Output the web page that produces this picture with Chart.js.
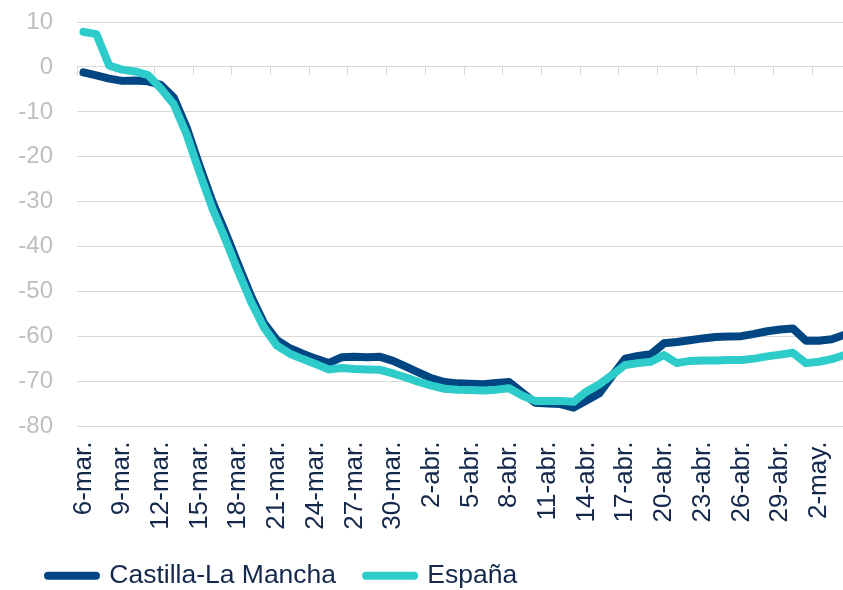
<!DOCTYPE html>
<html>
<head>
<meta charset="utf-8">
<script src="https://cdn.jsdelivr.net/npm/chart.js@4.4.1/dist/chart.umd.min.js"></script>
<style>
  html, body { margin: 0; padding: 0; overflow: hidden; background: #fff; }
</style>
</head>
<body>
<canvas id="movilidad" width="851" height="599"></canvas>
<script>
// categorias (dias)
const fechas = [
  '6-mar.', '7-mar.', '8-mar.', '9-mar.', '10-mar.', '11-mar.', '12-mar.', '13-mar.', '14-mar.', '15-mar.',
  '16-mar.', '17-mar.', '18-mar.', '19-mar.', '20-mar.', '21-mar.', '22-mar.', '23-mar.', '24-mar.', '25-mar.',
  '26-mar.', '27-mar.', '28-mar.', '29-mar.', '30-mar.', '31-mar.', '1-abr.', '2-abr.', '3-abr.', '4-abr.',
  '5-abr.', '6-abr.', '7-abr.', '8-abr.', '9-abr.', '10-abr.', '11-abr.', '12-abr.', '13-abr.', '14-abr.',
  '15-abr.', '16-abr.', '17-abr.', '18-abr.', '19-abr.', '20-abr.', '21-abr.', '22-abr.', '23-abr.', '24-abr.',
  '25-abr.', '26-abr.', '27-abr.', '28-abr.', '29-abr.', '30-abr.', '1-may.', '2-may.', '3-may.', '4-may.'
];

const castillaLaMancha = [
  -1.2, -1.9, -2.6, -3.1, -3.0, -3.2, -4.0, -6.8, -13.5, -22.0,
  -30.0, -36.8, -44.0, -51.0, -57.0, -60.8, -62.6, -63.8, -64.9, -65.9,
  -64.6, -64.5, -64.6, -64.5, -65.4, -66.7, -68.0, -69.3, -70.1, -70.4,
  -70.5, -70.6, -70.3, -70.1, -72.4, -74.7, -74.9, -75.0, -75.8, -74.2,
  -72.6, -68.7, -64.9, -64.3, -63.9, -61.5, -61.2, -60.8, -60.4, -60.1,
  -60.0, -59.9, -59.4, -58.8, -58.4, -58.2, -60.9, -60.9, -60.6, -59.6
];

const espana = [
  7.8, 7.3, 0.3, -0.6, -1.0, -1.8, -4.8, -8.3, -15.0, -23.5,
  -31.5, -38.3, -45.5, -52.3, -58.0, -62.0, -63.8, -65.0, -66.1, -67.3,
  -67.0, -67.2, -67.3, -67.4, -68.2, -69.1, -70.1, -70.9, -71.6, -71.8,
  -71.9, -72.0, -71.8, -71.5, -73.1, -74.3, -74.3, -74.3, -74.5, -72.2,
  -70.6, -68.5, -66.3, -65.9, -65.6, -64.1, -65.9, -65.4, -65.3, -65.3,
  -65.2, -65.2, -64.9, -64.4, -64.0, -63.6, -65.9, -65.6, -65.0, -64.1
];

// valores del eje vertical
const ejeY = [-80, -70, -60, -50, -40, -30, -20, -10, 0, 10];

const gris = '#d9d9d9';
const azul = '#004683';
const turquesa = '#2dcccb';
const textoOscuro = '#14284b';
const fuente = "'Liberation Sans', Arial, sans-serif";

// sin el relleno extra que Chart.js deja para las etiquetas de los extremos
const sinRelleno = scale => {
  scale.paddingLeft = 0;
  scale.paddingRight = 0;
  scale.paddingTop = 0;
  scale.paddingBottom = 0;
};

// leyenda con trazo grueso y extremos redondeados
const etiquetasLeyenda = chart =>
  Chart.defaults.plugins.legend.labels.generateLabels(chart).map(item => ({
    ...item,
    lineWidth: 8,
    lineCap: 'round'
  }));

new Chart(document.getElementById('movilidad'), {
  type: 'line',
  data: {
    labels: fechas,
    datasets: [
      { label: 'Castilla-La Mancha', data: castillaLaMancha, borderColor: azul, backgroundColor: azul, order: 1 },
      { label: 'España', data: espana, borderColor: turquesa, backgroundColor: turquesa, order: 0 }
    ]
  },
  options: {
    responsive: false,
    animation: false,
    layout: { padding: { top: 22, left: 18, right: 0, bottom: 0 } },
    elements: {
      line: { borderWidth: 8, tension: 0, borderCapStyle: 'round', borderJoinStyle: 'round' },
      point: { radius: 0, hoverRadius: 0 }
    },
    plugins: {
      legend: {
        position: 'bottom',
        align: 'start',
        labels: {
          usePointStyle: true,
          pointStyle: 'line',
          pointStyleWidth: 48,
          padding: 30,
          color: textoOscuro,
          font: { family: fuente, size: 26.5 },
          generateLabels: etiquetasLeyenda,
          sort: (a, b) => a.datasetIndex - b.datasetIndex
        }
      },
      tooltip: { enabled: false }
    },
    scales: {
      x: {
        type: 'category',
        offset: true,
        grid: { display: false, drawTicks: false },
        border: { display: false },
        ticks: {
          autoSkip: false,
          minRotation: 90,
          maxRotation: 90,
          padding: 15,
          color: textoOscuro,
          font: { family: fuente, size: 26 },
          callback: (v, i) => i % 3 === 0 ? fechas[i] : ''
        },
        afterFit: s => { sinRelleno(s); s.height = 106; }
      },
      // marcas pequeñas sobre la linea del cero
      xCero: {
        type: 'category',
        axis: 'x',
        position: { y: 0 },
        offset: true,
        grid: {
          offset: true,
          drawOnChartArea: false,
          tickLength: 8,
          color: ctx => ctx.index % 3 === 0 ? gris : 'transparent'
        },
        border: { display: false },
        ticks: { display: false, autoSkip: false },
        afterFit: sinRelleno
      },
      y: {
        min: Math.min(...ejeY),
        max: Math.max(...ejeY),
        grid: { color: gris, drawTicks: false },
        border: { display: false },
        ticks: {
          stepSize: ejeY[1] - ejeY[0],
          padding: 24,
          color: '#bfbfbf',
          font: { family: fuente, size: 24 }
        },
        afterFit: s => { sinRelleno(s); s.width = 59; }
      }
    }
  }
});
</script>
</body>
</html>
